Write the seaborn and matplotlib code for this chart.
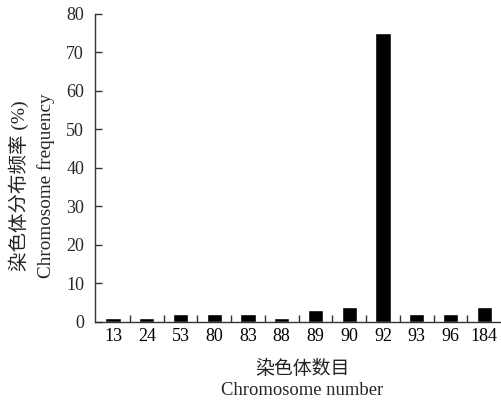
import numpy as np
import pandas as pd
import matplotlib
matplotlib.use("Agg")
import matplotlib.pyplot as plt
import seaborn as sns

chromosome_numbers = ["13", "24", "53", "80", "83", "88", "89", "90", "92", "93", "96", "184"]
frequencies = [1, 1, 2, 2, 2, 1, 3, 4, 75, 2, 2, 4]
y_ticks = [0, 10, 20, 30, 40, 50, 60, 70, 80]

sns.set_style("ticks")
plt.rcParams["font.family"] = ["Liberation Serif", "Noto Sans CJK SC"]

df = pd.DataFrame({"chrom": chromosome_numbers, "freq": frequencies})

fig = plt.figure(figsize=(5.01, 4.03), dpi=100)
ax = fig.add_axes([0.19, 0.201, 0.81, 0.765])

sns.barplot(data=df, x="chrom", y="freq", color="black", width=0.45,
            saturation=1, ax=ax)

ax.set_xlim(-0.53, 11.5)
ax.set_ylim(0, 80)
ax.set_yticks(y_ticks)
# small inward ticks between the categories
ax.set_xticks(np.arange(0.5, len(chromosome_numbers) - 0.5, 1), minor=True)
ax.tick_params(axis="x", which="major", length=0, labelsize=13, pad=4, colors="black")
ax.tick_params(axis="x", which="minor", direction="in", length=5, width=1, color="#333333")
ax.tick_params(axis="y", direction="in", length=5, width=1, labelsize=13, pad=8, color="#333333")
for s in ["top", "right"]:
    ax.spines[s].set_visible(False)
for s in ["left", "bottom"]:
    ax.spines[s].set_linewidth(1)
    ax.spines[s].set_color("#333333")

ax.set_ylabel("")
ax.set_xlabel("")
fig.text(0.037, 0.538, "染色体分布频率 (%)", rotation=90, ha="center", va="center",
         fontsize=14, fontweight="light", color="#222222")
fig.text(0.092, 0.538, "Chromosome frequency", rotation=90, ha="center", va="center", fontsize=13.8)
fig.text(0.603, 0.085, "染色体数目", ha="center", va="center", fontsize=13.6,
         fontweight="light", color="#222222")
fig.text(0.603, 0.03, "Chromosome number", ha="center", va="center", fontsize=13.4)

fig.savefig("out.png", dpi=100)
